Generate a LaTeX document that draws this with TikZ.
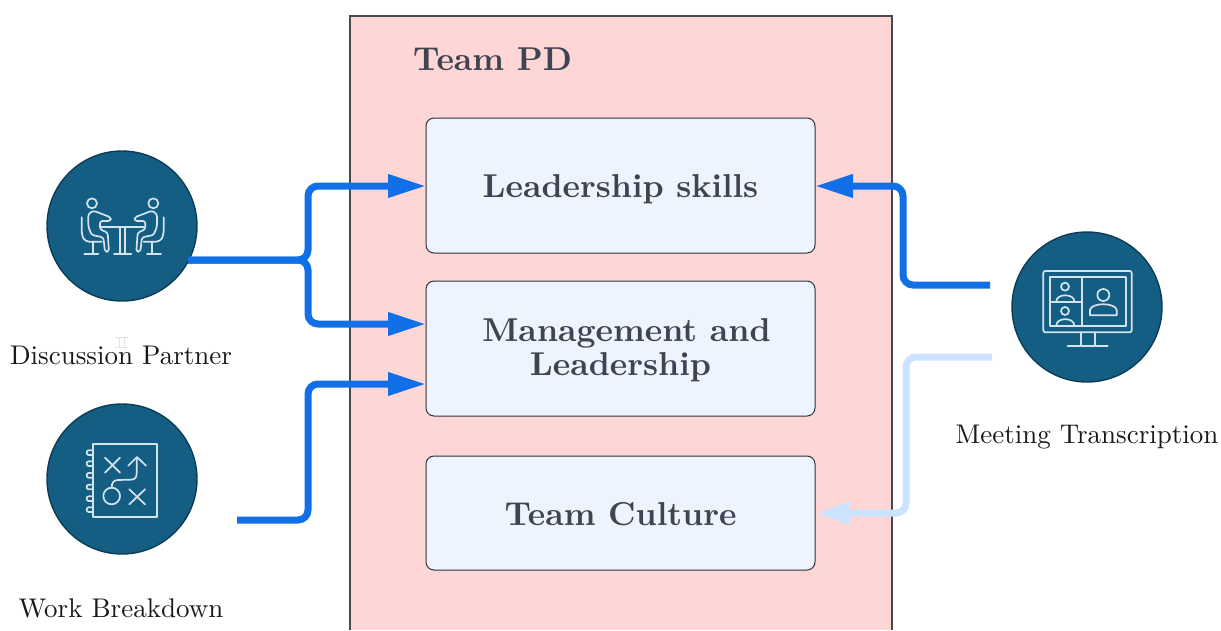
\documentclass[tikz,border=0pt]{standalone}
\usepackage{graphicx}
\usetikzlibrary{arrows.meta}
\definecolor{linkblue}{HTML}{1170E8}
\definecolor{linklight}{HTML}{CCE3FF}
\definecolor{panelpink}{HTML}{FFD6D6}
\definecolor{boxblue}{HTML}{EDF4FF}
\definecolor{inkdark}{HTML}{3E4452}
\definecolor{edgedark}{HTML}{2E323C}
\definecolor{paneledge}{HTML}{474A55}
\definecolor{disc}{HTML}{155E83}
\definecolor{discedge}{HTML}{0C3C55}
\definecolor{iconline}{HTML}{D5E4EC}
\newcommand{\headtext}[1]{\scalebox{3.31}{\fontsize{10}{12}\selectfont\bfseries #1}}
\newcommand{\captext}[1]{\scalebox{2.7}{\fontsize{10}{12}\selectfont #1}}
\tikzset{
  topic/.style={draw=edgedark,line width=1pt,fill=boxblue,rounded corners=8pt,minimum width=389pt,inner sep=0pt,align=center,text=inkdark,font=\fontsize{10}{34}\selectfont},
  disk/.style={circle,draw=discedge,line width=1.4pt,fill=disc,minimum size=150pt,inner sep=0pt},
  caption/.style={inner sep=0pt,text=black!90},
  link/.style={line width=7pt,rounded corners=10pt,draw=linkblue,-{Triangle[length=38pt,width=22pt]}},
  linkpale/.style={line width=7pt,rounded corners=10pt,draw=linklight,-{Triangle[length=32pt,width=22pt]}},
  icon/.style={draw=iconline,line width=1.7pt,line join=round,line cap=round},
}
\begin{document}
\begin{tikzpicture}[x=1pt,y=-1pt]
\useasboundingbox (0,0) rectangle (1221,630);
\fill[white] (0,0) rectangle (1221,630);
% panel
\fill[panelpink] (350,16) rectangle (892,630);
\draw[paneledge,line width=1.2pt] (350,630) -- (350,16) -- (892,16) -- (892,630);
\node[anchor=west,inner sep=0pt,text=inkdark] (title) at (413,59) {\headtext{Team PD}};
% boxes
\node[topic,minimum height=135pt] (lead) at (620.5,185.5) {\rule{0pt}{30pt}\headtext{Leadership skills}};
\node[topic,minimum height=135pt] (mgmt) at (620.5,348.5) {\rule{0pt}{27pt}\hspace*{12pt}\headtext{Management and}\\\headtext{Leadership}};
\node[topic,minimum height=114pt] (culture) at (620.5,513) {\rule{0pt}{25pt}\headtext{Team Culture}};
% disks
\node[disk] (partner) at (122,226) {};
\node[disk] (breakdown) at (122,479) {};
\node[disk] (meeting) at (1087,307) {};
% captions
\node[caption] (partnertext) at (121,355) {\captext{Discussion Partner}};
\node[caption] (breakdowntext) at (121,608) {\captext{Work Breakdown}};
\node[caption] (meetingtext) at (1087,437) {\captext{Meeting Transcription}};
\draw[gray!22,line width=0.7pt] (115,337) -- (128,337) (115,347) -- (128,347) (119,337) -- (119,347) (124,337) -- (124,347);
% connector ends
\coordinate (pstart) at (188,260);
\coordinate (wstart) at (237,520);
\coordinate (mstart) at (990,285);
\coordinate (cstart) at (992,357);
\coordinate (mgmtA) at (426,324);
\coordinate (mgmtB) at (426,384);
\coordinate (leadL) at (426,186);
\coordinate (leadR) at (815,186);
\coordinate (cultR) at (817,513);
\draw[link] (pstart) -- (308,260) -- (308,186) -- (leadL);
\draw[link] (pstart) -- (308,260) -- (308,324) -- (mgmtA);
\draw[link] (wstart) -- (308,520) -- (308,384) -- (mgmtB);
\draw[link] (mstart) -- (903,285) -- (903,186) -- (leadR);
\draw[linkpale] (cstart) -- (906,357) -- (906,513) -- (cultR);
% icon: two people at a table
\begin{scope}[shift={(40,140)},x=0.3333pt,y=-0.3333pt,icon]
\draw (156,190) circle (15);
\draw[rounded corners=2.5pt] (160,212) -- (212,232) -- (212,243) -- (180,243) -- (180,268) -- (203,278) -- (207,335) -- (195,335) -- (190,292) -- (155,285) -- (145,260) -- (145,222) -- cycle;
\draw[rounded corners=4pt] (125,232) -- (125,285) -- (135,305) -- (185,305);
\draw (160,305) -- (160,342) (133,342) -- (175,342);
\draw (340,190) circle (15);
\draw[rounded corners=2.5pt] (336,212) -- (284,232) -- (284,243) -- (316,243) -- (316,268) -- (293,278) -- (289,335) -- (301,335) -- (306,292) -- (341,285) -- (351,260) -- (351,222) -- cycle;
\draw[rounded corners=4pt] (371,232) -- (371,285) -- (361,305) -- (311,305);
\draw (336,305) -- (336,342) (321,342) -- (363,342);
\draw (184,260) -- (312,260);
\draw (241,260) -- (241,342) (256,260) -- (256,342) (222,342) -- (274,342);
\end{scope}
% icon: play plan
\begin{scope}[shift={(40,395)},x=0.3333pt,y=-0.3333pt,icon]
\draw (158,148) rectangle (350,365);
\foreach \yy in {172,205,240,275,310,343}{
  \draw (158,\yy+8) -- (146,\yy+8) .. controls (138,\yy+8) and (138,\yy-6) .. (146,\yy-6) -- (154,\yy-6);
}
\draw (195,188) -- (240,233) (240,188) -- (195,233);
\draw (268,283) -- (315,328) (315,283) -- (268,328);
\draw (215,303) circle (25);
\draw (215,278) .. controls (215,262) and (222,255) .. (235,255) -- (272,254) .. controls (285,254) and (290,248) .. (290,235) -- (290,190);
\draw (265,212) -- (291,186) -- (318,212);
\end{scope}
% icon: video meeting
\begin{scope}[shift={(1005,225)},x=0.3333pt,y=-0.3333pt,icon]
\draw[rounded corners=2pt] (115,138) rectangle (380,322);
\draw (135,157) rectangle (362,302);
\draw (230,157) -- (230,302) (135,231) -- (230,231);
\draw (180,185) circle (12);
\draw (180,258) circle (12);
\draw (295,210) circle (18);
\draw (154,229) .. controls (154,205) and (208,205) .. (208,229);
\draw (154,302) .. controls (154,276) and (208,276) .. (208,302);
\draw (255,271) -- (255,255) .. controls (258,232) and (332,232) .. (335,255) -- (335,271) -- cycle;
\draw (228,322) -- (228,362) (270,322) -- (270,362) (188,362) -- (308,362);
\end{scope}
\end{tikzpicture}
\end{document}
